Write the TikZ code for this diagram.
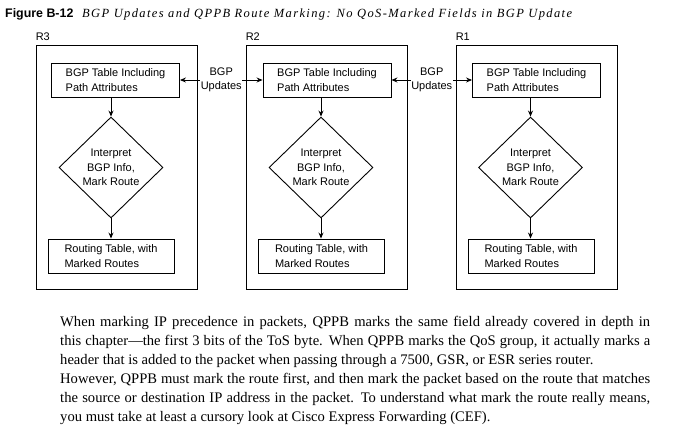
\documentclass[tikz,border=0pt]{standalone}
\usepackage{fontspec}
\setmainfont{Liberation Serif}
\setsansfont{Liberation Sans}
\newfontfamily\captfont[LetterSpace=11]{Liberation Serif}
\usetikzlibrary{arrows.meta,positioning,shapes.geometric}

\tikzset{
  boxtext/.style={font=\sffamily\fontsize{11}{14.5}\selectfont},
  router/.style={draw, line width=0.9pt, minimum width=161pt, minimum height=244pt, inner sep=0pt},
  tablebox/.style={boxtext, draw, line width=0.9pt, minimum width=128pt, minimum height=34pt, align=left, inner sep=0pt},
  decision/.style={boxtext, diamond, draw, line width=0.9pt, minimum width=104pt, minimum height=101pt, align=center, inner sep=0pt},
  rlabel/.style={boxtext, anchor=south west, inner sep=0pt},
  updlabel/.style={boxtext, fill=white, align=center, inner sep=0.5pt},
  arr/.style={line width=0.9pt, -{Stealth[length=6pt,width=5pt]}},
  dblarr/.style={line width=0.9pt, {Stealth[length=6pt,width=5pt]}-{Stealth[length=6pt,width=5pt]}}
}

\begin{document}
\begin{tikzpicture}[x=1pt, y=-1pt]
    \useasboundingbox (0,0) rectangle (680,432);

    % caption
    \node[anchor=base west, inner sep=0pt] (figno) at (5,17) {\sffamily\bfseries\fontsize{12.4}{14}\selectfont Figure B-12};
    \node[anchor=base west, inner sep=0pt] (figtitle) at (82,17) {\captfont\itshape\fontsize{12.5}{14}\selectfont BGP Updates and QPPB Route Marking: No QoS-Marked Fields in BGP Update};

    % the three routers
    \node[router] (r3) at (116.5,167) {};
    \node[router] (r2) at (326.5,167) {};
    \node[router] (r1) at (536.5,167) {};
    \node[rlabel] (lbl3) at ([yshift=4pt]r3.north west) {R3};
    \node[rlabel] (lbl2) at ([yshift=4pt]r2.north west) {R2};
    \node[rlabel] (lbl1) at ([yshift=4pt]r1.north west) {R1};

    % BGP tables
    \node[tablebox] (bgp3) at (115.5,80) {BGP Table Including\\Path Attributes};
    \node[tablebox] (bgp2) at (327,80) {BGP Table Including\\Path Attributes};
    \node[tablebox] (bgp1) at (536.5,80) {BGP Table Including\\Path Attributes};

    % marking step
    \node[decision] (dia3) at (111,167.5) {Interpret\\BGP Info,\\Mark Route};
    \node[decision] (dia2) at (321,167.5) {Interpret\\BGP Info,\\Mark Route};
    \node[decision] (dia1) at (530.5,167.5) {Interpret\\BGP Info,\\Mark Route};

    % routing tables
    \node[tablebox, minimum width=126pt] (rt3) at (111,256) {Routing Table, with\\Marked Routes};
    \node[tablebox, minimum width=126pt] (rt2) at (321.5,256) {Routing Table, with\\Marked Routes};
    \node[tablebox, minimum width=126pt] (rt1) at (531,256) {Routing Table, with\\Marked Routes};

    % flow inside each router
    \draw[arr] (bgp3.south -| dia3.north) -- (dia3.north);
    \draw[arr] (bgp2.south -| dia2.north) -- (dia2.north);
    \draw[arr] (bgp1.south -| dia1.north) -- (dia1.north);
    \draw[arr] (dia3.south) -- (dia3.south |- rt3.north);
    \draw[arr] (dia2.south) -- (dia2.south |- rt2.north);
    \draw[arr] (dia1.south) -- (dia1.south |- rt1.north);

    % BGP updates between routers
    \draw[dblarr] (bgp3.east) -- (bgp2.west) node[midway, updlabel] {BGP\\Updates};
    \draw[dblarr] (bgp2.east) -- (bgp1.west) node[midway, updlabel] {BGP\\Updates};

    % body text
    \node[anchor=base west, inner sep=0pt, text width=590pt, align=justify, font=\fontsize{14.6}{19}\selectfont] (para) at (60,326) {When marking IP precedence in packets, QPPB marks the same field already covered in depth in\linebreak
this chapter---the first 3 bits of the ToS byte. When QPPB marks the QoS group, it actually marks a\linebreak
header that is added to the packet when passing through a 7500, GSR, or ESR series router.\newline
However, QPPB must mark the route first, and then mark the packet based on the route that matches\linebreak
the source or destination IP address in the packet. To understand what mark the route really means,\linebreak
you must take at least a cursory look at Cisco Express Forwarding (CEF).};
\end{tikzpicture}
\end{document}
